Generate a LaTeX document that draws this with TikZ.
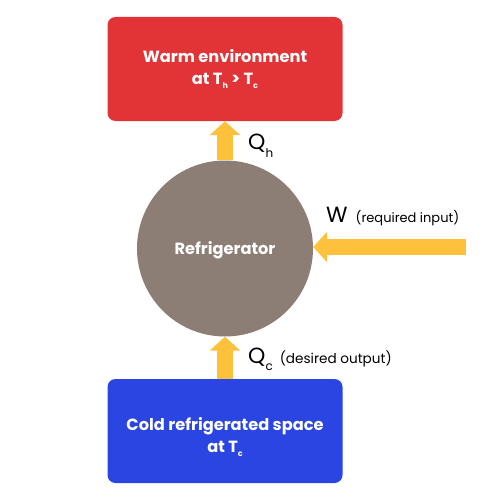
\documentclass[tikz,border=0pt]{standalone}
\usepackage{fontspec}
\setmainfont{Poppins}
\usetikzlibrary{arrows.meta}
\definecolor{warmred}{HTML}{E23437}
\definecolor{coldblue}{HTML}{2B45E2}
\definecolor{fridge}{HTML}{8C7E74}
\definecolor{heat}{HTML}{FEC13C}
\newcommand{\sub}[2]{\raisebox{-#1pt}{\fontsize{12}{12}\selectfont #2}}
\newcommand{\tsub}[1]{\raisebox{-4pt}{\fontsize{8}{8}\selectfont #1}}
\tikzset{
  box/.style={rectangle, rounded corners=8pt, minimum width=235pt, minimum height=104pt, inner sep=0pt},
  boxtext/.style={text=white, font=\fontsize{16.2}{22}\selectfont\bfseries, align=center},
  flow/.style={draw=heat, line width=16pt, -{Triangle[width=30pt,length=14pt]}},
  lab/.style={font=\fontsize{22}{24}\selectfont, anchor=base west, inner sep=0pt}
}
\begin{document}
\begin{tikzpicture}[x=1pt,y=-1pt]
\useasboundingbox (0,0) rectangle (500,500);
\node[box, fill=warmred] (warm) at (225,69) {};
\node[boxtext] (warmtxt) at (225,69) {Warm environment\\at T\tsub{h} > T\tsub{c}};
\node[box, fill=coldblue] (cold) at (225,431) {};
\node[boxtext] (coldtxt) at (225,437) {Cold refrigerated space\\at T\tsub{c}};
\node[circle, fill=fridge, minimum size=176pt, inner sep=0pt] (circ) at (225,248.5) {};
\node[text=white, font=\fontsize{16.2}{18}\selectfont\bfseries] (circtxt) at (225,250) {Refrigerator};
\coordinate (wstart) at (466,247);
\draw[flow] (circ.north) -- (warm.south);
\draw[flow] (cold.north) -- (circ.south);
\draw[flow] (wstart) -- (circ.east |- wstart);
\node[lab] (qh) at (248,149) {Q\sub{8}{h}};
\node[lab] (w) at (326,222) {W\hspace{8pt}\fontsize{13}{15}\selectfont(required input)};
\node[lab] (qc) at (248,363) {Q\sub{7}{c}\hspace{7pt}\fontsize{13.6}{15}\selectfont(desired output)};
\end{tikzpicture}
\end{document}
